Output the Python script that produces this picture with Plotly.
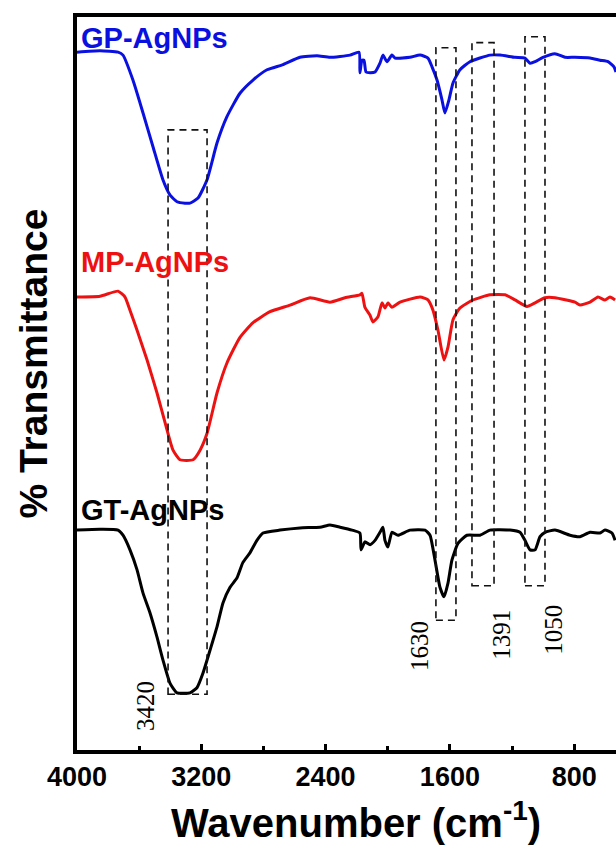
import plotly.graph_objects as go

# ---- data (wavenumber in cm^-1, transmittance in arbitrary offset units) ----
gp_wn = [4000, 3852, 3736, 3704, 3640, 3575, 3511, 3447, 3401, 3356, 3305, 3273, 3221, 3163, 3099,
         3035, 2951, 2867, 2777, 2674, 2565, 2455, 2372, 2243, 2185, 2179, 2166, 2153, 2140, 2114,
         2082, 2050, 2031, 2005, 1973, 1953, 1857, 1792, 1741, 1715, 1683, 1651, 1632, 1606, 1580,
         1535, 1471, 1342, 1278, 1181, 1117, 1084, 1052, 1001, 924, 859, 795, 698, 634, 582, 544, 531]
gp_t = [95.2, 95.4, 95.2, 94.8, 91.4, 86.9, 82.3, 77.8, 75.7, 74.8, 74.6, 74.6, 75.3, 77.8, 82.8,
        86.4, 89.6, 91.4, 92.8, 93.5, 94.5, 94.7, 94.5, 94.8, 95.2, 92.4, 94.1, 94.1, 92.5, 92.4,
        92.5, 93.7, 94.8, 93.9, 94.8, 94.4, 94.5, 94.8, 94.4, 93.2, 91.4, 88.7, 86.9, 88.7, 91.0,
        92.8, 93.9, 94.8, 94.8, 94.5, 94.4, 93.7, 93.9, 94.5, 95.0, 94.5, 94.5, 94.4, 94.1, 93.9, 93.2, 92.5]

mp_wn = [4000, 3852, 3736, 3691, 3659, 3614, 3549, 3485, 3421, 3382, 3337, 3253, 3208, 3163, 3099,
         3035, 2951, 2867, 2758, 2629, 2500, 2372, 2275, 2179, 2166, 2147, 2114, 2095, 2063, 2037,
         2018, 1999, 1973, 1921, 1792, 1741, 1709, 1677, 1638, 1612, 1580, 1535, 1451, 1342, 1245,
         1181, 1104, 1052, 988, 924, 795, 763, 698, 647, 602, 570, 537]
mp_t = [61.8, 61.9, 62.6, 61.8, 60.0, 57.3, 53.2, 48.7, 43.7, 40.9, 39.6, 39.6, 40.9, 43.2, 48.7,
        52.8, 56.3, 58.3, 59.8, 60.7, 61.7, 61.1, 61.7, 62.1, 62.3, 60.4, 59.3, 58.4, 59.1, 61.0,
        60.3, 61.0, 60.4, 61.1, 61.8, 61.4, 60.0, 57.3, 53.2, 55.0, 58.7, 60.3, 61.4, 62.1, 62.1,
        61.4, 60.5, 61.0, 61.7, 61.7, 61.1, 60.7, 61.1, 61.8, 61.4, 61.8, 61.4]

gt_wn = [4000, 3852, 3736, 3704, 3659, 3614, 3575, 3530, 3485, 3447, 3401, 3356, 3273, 3228, 3189,
         3144, 3099, 3060, 3015, 2970, 2932, 2887, 2842, 2803, 2693, 2565, 2436, 2372, 2307, 2230,
         2179, 2172, 2147, 2114, 2082, 2050, 2031, 2018, 1999, 1973, 1934, 1857, 1760, 1728, 1696,
         1664, 1638, 1612, 1587, 1548, 1490, 1406, 1342, 1213, 1149, 1117, 1084, 1052, 1020, 988,
         924, 827, 763, 698, 634, 602, 557, 537]
gt_t = [30.0, 30.1, 30.0, 29.3, 27.3, 24.6, 21.4, 18.7, 15.4, 12.3, 9.1, 7.8, 7.8, 8.5, 10.5,
        13.6, 16.8, 20.1, 22.2, 23.5, 25.6, 26.9, 28.6, 29.6, 30.0, 30.3, 30.4, 30.7, 30.4, 30.0,
        29.6, 27.3, 28.4, 28.0, 28.6, 29.7, 30.4, 28.6, 27.7, 29.7, 29.3, 30.0, 30.0, 29.3, 25.9,
        22.2, 20.9, 22.8, 25.9, 28.2, 29.3, 29.3, 30.0, 30.0, 29.7, 28.6, 27.3, 27.3, 29.1, 29.7,
        30.0, 29.3, 29.1, 29.7, 29.6, 30.0, 29.6, 28.6]

series_names = ["GP-AgNPs", "MP-AgNPs", "GT-AgNPs"]
series_colors = ["#0a10e0", "#ee1111", "#000000"]
name_label_t = [97.1, 66.6, 32.7]

# dashed boxes around assigned bands: (left wn, right wn, top, bottom)
box_left = [3414, 1690, 1458, 1117]
box_right = [3163, 1561, 1316, 988]
box_top = [84.6, 95.8, 96.5, 97.3]
box_bottom = [7.6, 17.7, 22.4, 22.4]

band_labels = ["3420", "1630", "1391", "1050"]
band_label_wn = [3562, 1792, 1265, 930]
band_label_t = [6.0, 14.2, 15.7, 16.4]

major_ticks = [4000, 3200, 2400, 1600, 800]

FONT = "Arial, Liberation Sans, sans-serif"

fig = go.Figure()
for wn, t, name, col in zip([gp_wn, mp_wn, gt_wn], [gp_t, mp_t, gt_t], series_names, series_colors):
    fig.add_trace(go.Scatter(x=wn, y=t, mode="lines", name=name,
                             line=dict(color=col, width=3, shape="spline", smoothing=0.5)))

for name, col, yt in zip(series_names, series_colors, name_label_t):
    fig.add_annotation(x=3985, y=yt, xref="x", yref="y", text="<b>%s</b>" % name,
                       showarrow=False, xanchor="left", yanchor="middle",
                       font=dict(family=FONT, size=29, color=col))

for x0, x1, y0, y1 in zip(box_left, box_right, box_bottom, box_top):
    fig.add_shape(type="rect", xref="x", yref="y", x0=x0, x1=x1, y0=y0, y1=y1,
                  line=dict(color="#111111", width=1.6, dash="7px,5px"), layer="above")

for lab, xw, yt in zip(band_labels, band_label_wn, band_label_t):
    fig.add_annotation(x=xw, y=yt, xref="x", yref="y", text=lab, showarrow=False,
                       textangle=-90, xanchor="center", yanchor="middle",
                       font=dict(family="Liberation Serif, Times New Roman, serif", size=25, color="black"))

fig.add_annotation(x=-0.08, y=0.527, xref="paper", yref="paper", text="<b>% Transmittance</b>",
                   showarrow=False, textangle=-90, xanchor="center", yanchor="middle",
                   font=dict(family=FONT, size=39, color="black"))
fig.add_annotation(x=0.518, y=-0.096, xref="paper", yref="paper",
                   text="<b>Wavenumber (cm<sup>-1</sup>)</b>",
                   showarrow=False, xanchor="center", yanchor="middle",
                   font=dict(family=FONT, size=40, color="black"))

fig.update_layout(
    width=616, height=846,
    margin=dict(l=77, r=0, t=17, b=96),
    paper_bgcolor="white", plot_bgcolor="white",
    showlegend=False,
)
fig.update_xaxes(range=[4000, 531], tickvals=major_ticks, ticktext=[str(v) for v in major_ticks],
                 showline=True, linecolor="black", linewidth=4, mirror=True,
                 ticks="inside", ticklen=6, tickwidth=3, tickcolor="black",
                 minor=dict(dtick=400, tick0=0, ticks="inside", ticklen=4, tickwidth=3, tickcolor="black"),
                 showgrid=False, zeroline=False,
                 tickfont=dict(family=FONT, size=27, color="black", weight="bold"))
fig.update_yaxes(range=[0, 100], showline=True, linecolor="black", linewidth=4,
                 showticklabels=False, ticks="", showgrid=False, zeroline=False)

fig.write_html("out.html")
